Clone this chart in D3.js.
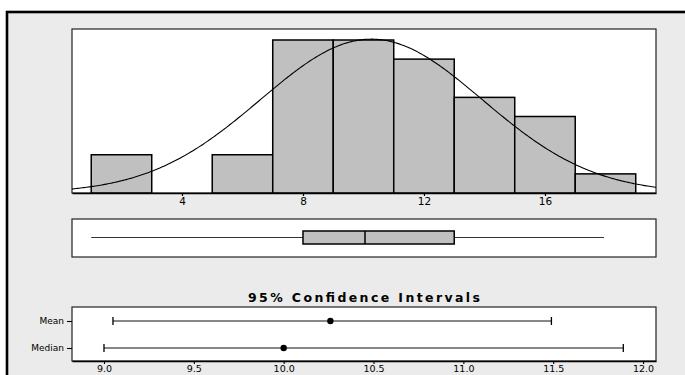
<!DOCTYPE html>
<html>
<head>
<meta charset="utf-8">
<script src="https://cdn.jsdelivr.net/npm/d3@7/dist/d3.min.js"></script>
<style>
  html, body { margin: 0; padding: 0; background: #ffffff; }
  svg { display: block; }
  text { font-family: "DejaVu Sans", sans-serif; fill: #000; }
</style>
</head>
<body>
<svg id="chart" width="685" height="375"></svg>
<script>
// Histogram bins (lower edges, width 2) and counts
const binStarts = [1, 3, 5, 7, 9, 11, 13, 15, 17];
const binWidth = 2;
const binCounts = [2, 0, 2, 8, 8, 7, 5, 4, 1];
const histTicks = [4, 8, 12, 16];

// Five-number summary for the boxplot
const boxStats = [1.0, 8.0, 10.05, 13.0, 17.95]; // min, Q1, median, Q3, max

// Fitted normal curve parameters
const fitMean = 10.26;
const fitSd = 3.67;
const sampleN = 37;

// 95% confidence intervals
const ciLabels = ["Mean", "Median"];
const ciCenters = [10.26, 10.0];
const ciLows = [9.05, 9.0];
const ciHighs = [11.49, 11.89];
const ciTicks = [9.0, 9.5, 10.0, 10.5, 11.0, 11.5, 12.0];

const svg = d3.select("#chart");

// Outer gray frame
svg.append("rect")
  .attr("x", 7).attr("y", 12).attr("width", 720).attr("height", 420)
  .attr("fill", "#ebebeb").attr("stroke", "#000").attr("stroke-width", 2.6);

const left = 72, right = 656;

// ---------- Histogram ----------
const hTop = 29, hBottom = 193;
const x = d3.scaleLinear().domain([0.364, 19.67]).range([left, right]);
const y = d3.scaleLinear().domain([0, 8.575]).range([hBottom, hTop]);

svg.append("rect")
  .attr("x", left).attr("y", hTop).attr("width", right - left).attr("height", hBottom - hTop)
  .attr("fill", "#fff").attr("stroke", "#222").attr("stroke-width", 1.2);

svg.append("clipPath").attr("id", "histClip")
  .append("rect").attr("x", left).attr("y", hTop).attr("width", right - left).attr("height", hBottom - hTop);

const hist = svg.append("g");
hist.selectAll("rect.bar")
  .data(binStarts.map((s, i) => ({ s, c: binCounts[i] })).filter(d => d.c > 0))
  .join("rect")
  .attr("class", "bar")
  .attr("x", d => x(d.s))
  .attr("y", d => y(d.c))
  .attr("width", d => x(d.s + binWidth) - x(d.s))
  .attr("height", d => y(0) - y(d.c))
  .attr("fill", "#c0c0c0").attr("stroke", "#000").attr("stroke-width", 1.5);

// Normal density scaled to counts
const curveXs = d3.range(0.3, 19.8, 0.05);
const dens = v => sampleN * binWidth / (fitSd * Math.sqrt(2 * Math.PI)) *
  Math.exp(-0.5 * Math.pow((v - fitMean) / fitSd, 2));
svg.append("path")
  .attr("clip-path", "url(#histClip)")
  .attr("d", d3.line().x(v => x(v)).y(v => y(dens(v)))(curveXs))
  .attr("fill", "none").attr("stroke", "#000").attr("stroke-width", 1.1);

const hAxis = svg.append("g").attr("transform", `translate(0,${hBottom})`)
  .call(d3.axisBottom(x).tickValues(histTicks).tickSizeInner(3).tickSizeOuter(0)
    .tickPadding(2).tickFormat(d3.format("d")));
hAxis.select(".domain").attr("stroke", "#000").attr("stroke-width", 1.6);
hAxis.selectAll(".tick line").attr("stroke", "#000").attr("stroke-width", 1.2);
hAxis.selectAll(".tick text").attr("font-size", 10.5).attr("font-family", "DejaVu Sans");

// ---------- Boxplot ----------
const bTop = 219, bBottom = 257, boxTop = 231, boxBottom = 244;
const bMid = (boxTop + boxBottom) / 2;
svg.append("rect")
  .attr("x", left).attr("y", bTop).attr("width", right - left).attr("height", bBottom - bTop)
  .attr("fill", "#fff").attr("stroke", "#222").attr("stroke-width", 1.2);
const [bMin, bQ1, bMed, bQ3, bMax] = boxStats;
svg.append("line").attr("x1", x(bMin)).attr("x2", x(bQ1)).attr("y1", bMid).attr("y2", bMid)
  .attr("stroke", "#333").attr("stroke-width", 1.1);
svg.append("line").attr("x1", x(bQ3)).attr("x2", x(bMax)).attr("y1", bMid).attr("y2", bMid)
  .attr("stroke", "#333").attr("stroke-width", 1.1);
svg.append("rect")
  .attr("x", x(bQ1)).attr("y", boxTop).attr("width", x(bQ3) - x(bQ1)).attr("height", boxBottom - boxTop)
  .attr("fill", "#c0c0c0").attr("stroke", "#000").attr("stroke-width", 1.5);
svg.append("line").attr("x1", x(bMed)).attr("x2", x(bMed)).attr("y1", boxTop).attr("y2", boxBottom)
  .attr("stroke", "#000").attr("stroke-width", 1.5);

// ---------- Confidence intervals ----------
const cTop = 307, cBottom = 361;
const cx = d3.scaleLinear().domain([8.822, 12.072]).range([left, right]);
const cy = d3.scalePoint().domain(ciLabels).range([321, 348]);

svg.append("text")
  .attr("x", (left + right) / 2).attr("y", 302)
  .attr("text-anchor", "middle").attr("font-size", 12.5).attr("font-weight", "bold")
  .attr("textLength", 232).attr("lengthAdjust", "spacing")
  .text("95% Confidence Intervals");

svg.append("rect")
  .attr("x", left).attr("y", cTop).attr("width", right - left).attr("height", cBottom - cTop)
  .attr("fill", "#fff").attr("stroke", "#222").attr("stroke-width", 1.2);

const ciData = ciLabels.map((k, i) => ({ k, c: ciCenters[i], lo: ciLows[i], hi: ciHighs[i] }));
const rows = svg.append("g").selectAll("g").data(ciData).join("g")
  .attr("transform", d => `translate(0,${cy(d.k)})`);
rows.append("line").attr("x1", d => cx(d.lo)).attr("x2", d => cx(d.hi))
  .attr("stroke", "#111").attr("stroke-width", 1.1);
rows.append("line").attr("x1", d => cx(d.lo)).attr("x2", d => cx(d.lo)).attr("y1", -4).attr("y2", 4)
  .attr("stroke", "#000").attr("stroke-width", 1.3);
rows.append("line").attr("x1", d => cx(d.hi)).attr("x2", d => cx(d.hi)).attr("y1", -4).attr("y2", 4)
  .attr("stroke", "#000").attr("stroke-width", 1.3);
rows.append("circle").attr("cx", d => cx(d.c)).attr("r", 3.2).attr("fill", "#000");

const cyAxis = svg.append("g").attr("transform", `translate(${left},0)`)
  .call(d3.axisLeft(cy).tickSize(5).tickPadding(3));
cyAxis.select(".domain").remove();
cyAxis.selectAll(".tick line").attr("stroke", "#000").attr("stroke-width", 1.1);
cyAxis.selectAll(".tick text").attr("font-size", 9).attr("font-family", "DejaVu Sans");

const cxAxis = svg.append("g").attr("transform", `translate(0,${cBottom})`)
  .call(d3.axisBottom(cx).tickValues(ciTicks).tickSizeInner(3).tickSizeOuter(0)
    .tickPadding(1).tickFormat(d3.format(".1f")));
cxAxis.select(".domain").attr("stroke", "#000").attr("stroke-width", 1.4);
cxAxis.selectAll(".tick line").attr("stroke", "#000").attr("stroke-width", 1.1);
cxAxis.selectAll(".tick text").attr("font-size", 9.5).attr("font-family", "DejaVu Sans");
</script>
</body>
</html>
